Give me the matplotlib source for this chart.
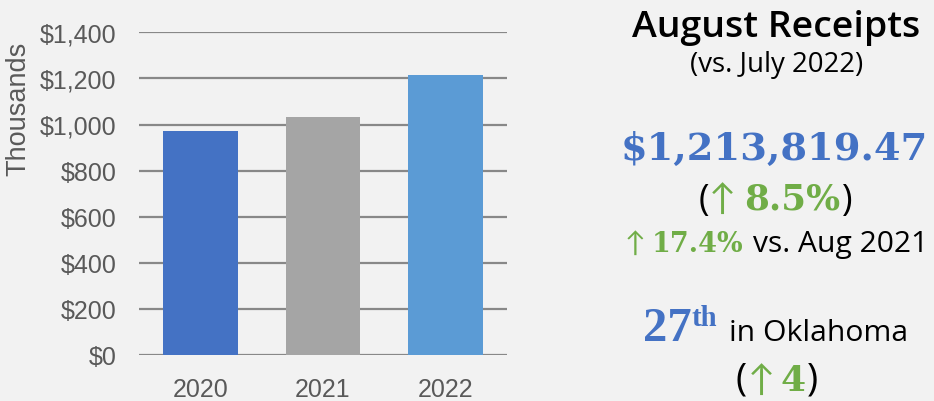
import matplotlib
matplotlib.use("Agg")
import matplotlib.pyplot as plt

years = ["2020", "2021", "2022"]
values = [971.8, 1032.6, 1213.8]  # thousands of dollars
bar_colors = ["#4472C4", "#A5A5A5", "#5B9BD5"]
yticks = [0, 200, 400, 600, 800, 1000, 1200, 1400]
ytick_labels = ["$0", "$200", "$400", "$600", "$800", "$1,000", "$1,200", "$1,400"]

BG = "#F2F2F2"
W, H = 934, 402
fig = plt.figure(figsize=(W / 100, H / 100), dpi=100, facecolor=BG)
ax = fig.add_axes([139 / W, 1 - 356 / H, (507 - 139) / W, (356 - 33.3) / H])
ax.set_facecolor(BG)

x = list(range(len(years)))
ax.bar(x, values, width=0.61, color=bar_colors, zorder=3)
ax.set_xlim(-0.5, 2.5)
ax.set_ylim(0, 1400)
ax.set_yticks(yticks)
ax.set_yticklabels(ytick_labels)
ax.set_xticks(x)
ax.set_xticklabels(years)
for s in ax.spines.values():
    s.set_visible(False)
ax.grid(axis="y", color="#888888", linewidth=1.6, zorder=1)
ax.tick_params(axis="both", length=0, labelsize=18, labelcolor="#595959")
ax.tick_params(axis="y", pad=16)
ax.tick_params(axis="x", pad=16)
for lab in ax.get_xticklabels() + ax.get_yticklabels():
    lab.set_fontfamily("Liberation Sans")

fig.text(18 / W, 1 - 109 / H, "Thousands", rotation=90, ha="center", va="center",
         fontsize=19.5, color="#595959", family="Liberation Sans")

GREEN = "#70AD47"
BLUE = "#4472C4"
SANS = "Open Sans"
SERIF = "DejaVu Serif"
ARROW = ["Lato", "DejaVu Sans"]

renderer = fig.canvas.get_renderer()


def row(xc, y, width, pieces):
    """pieces: list of (text, kwargs, dy_px, gap_px_before, scalable).
    Scalable pieces are scaled uniformly so total width == width;
    row centered at xc, baseline y (px from top)."""
    objs = []
    for txt, kw, dy, gap, sc in pieces:
        t = fig.text(0, 0, txt, va="baseline", ha="left", **kw)
        objs.append([t, kw["fontsize"], dy, gap, sc])

    def measure():
        return [o[0].get_window_extent(renderer=renderer).width for o in objs]

    ws = measure()
    gaps = sum(o[3] for o in objs)
    fixed = sum(w for o, w in zip(objs, ws) if not o[4])
    var = sum(w for o, w in zip(objs, ws) if o[4])
    if var > 0 and width is not None:
        scale = (width - gaps - fixed) / var
        for o in objs:
            if o[4]:
                o[0].set_fontsize(o[1] * scale)
    ws = measure()
    total = sum(ws) + gaps
    cur = xc - total / 2
    for o, w in zip(objs, ws):
        cur += o[3]
        o[0].set_position((cur / W, 1 - (y - o[2]) / H))
        cur += w


row(776, 37, 288, [("August Receipts", dict(fontsize=26, family=SANS, weight="semibold", color="black"), 0, 0, True)])
row(776.5, 72, 173, [("(vs. July 2022)", dict(fontsize=17, family=SANS, color="black"), 0, 0, True)])
row(774.5, 160, 307, [("$1,213,819.47", dict(fontsize=28, family=SERIF, weight="bold", color=BLUE), 0, 0, True)])
row(775.5, 210, 155, [("(", dict(fontsize=24, family=SANS, color="black"), 0, 0, True),
                      ("↑", dict(fontsize=26, family=ARROW, color=GREEN), 0, 0, False),
                      ("8.5%", dict(fontsize=24, family=SERIF, weight="bold", color=GREEN), 0, 8, True),
                      (")", dict(fontsize=24, family=SANS, color="black"), 0, 2, True)])
row(776.5, 252, 303, [("↑", dict(fontsize=20, family=ARROW, color=GREEN), 0, 0, False),
                      ("17.4%", dict(fontsize=18, family=SERIF, weight="bold", color=GREEN), 0, 6, True),
                      ("vs. Aug 2021", dict(fontsize=20, family=SANS, color="black"), 0, 10, True)])
row(775.5, 341, 265, [("27", dict(fontsize=34, family="Liberation Serif", weight="bold", color=BLUE), 0, 0, True),
                      ("th", dict(fontsize=20, family="Liberation Serif", weight="bold", color=BLUE), 15, 0, True),
                      ("in Oklahoma", dict(fontsize=21, family=SANS, color="black"), 0, 12, True)])
row(776.5, 391, None, [("(", dict(fontsize=27, family=SANS, color="black"), 0, 0, False),
                       ("↑", dict(fontsize=26, family=ARROW, color=GREEN), 0, 1, False),
                       ("4", dict(fontsize=26, family=SERIF, weight="bold", color=GREEN), 0, 6, False),
                       (")", dict(fontsize=27, family=SANS, color="black"), 0, 1, False)])

fig.savefig("out.png", dpi=100, facecolor=BG)
